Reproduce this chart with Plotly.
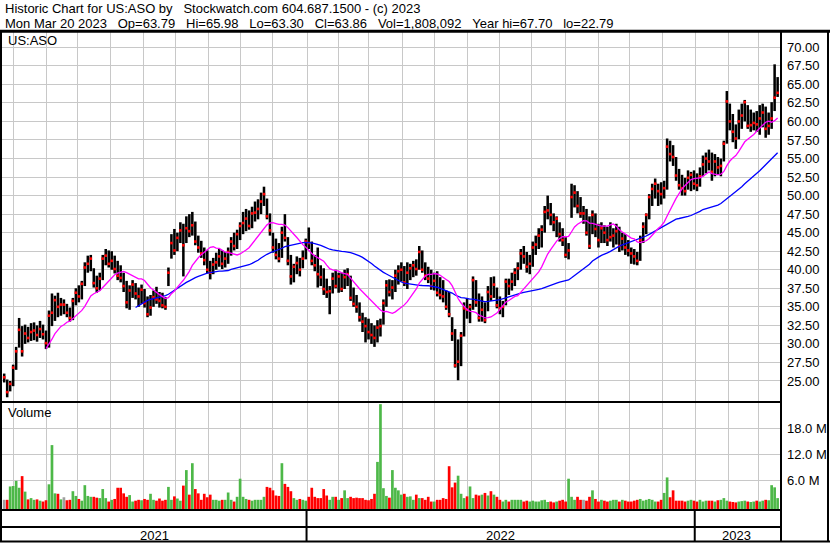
import numpy as np
import pandas as pd
import plotly.graph_objects as go

# ---------------- data ----------------
symbol = "US:ASO"
start_date = "2021-03-23"
end_date = "2023-03-20"
hdr_date = "Mon Mar 20 2023"
last_open, last_high, last_low, last_close = "63.79", "65.98", "63.30", "63.86"
last_volume = "1,808,092"
year_hi, year_lo = "67.70", "22.79"

high = [
    26.0, 25.2, 25.0, 27.2, 29.6, 33.5, 32.4, 32.6, 32.3, 32.8,
    32.9, 32.5, 33.1, 32.6, 31.8, 34.5, 36.8, 36.5, 36.9, 36.2,
    36.0, 35.4, 34.9, 36.2, 37.5, 37.9, 38.5, 41.0, 41.9, 42.0,
    40.2, 39.2, 39.6, 42.0, 42.8, 42.6, 42.5, 41.9, 41.2, 40.6,
    39.6, 38.5, 37.9, 38.6, 38.2, 37.6, 38.0, 37.4, 36.4, 36.6,
    37.2, 37.7, 37.0, 36.9, 36.3, 40.3, 44.8, 45.5, 45.0, 46.4,
    46.2, 47.2, 47.5, 47.8, 46.5, 44.6, 43.9, 43.0, 42.6, 41.2,
    41.6, 42.3, 42.8, 42.6, 42.4, 43.0, 44.4, 45.0, 45.4, 46.4,
    47.8, 48.2, 48.0, 48.5, 49.2, 49.5, 50.4, 51.2, 49.6, 47.6,
    45.0, 44.2, 43.6, 45.8, 47.5, 44.4, 42.0, 40.8, 41.8, 41.6,
    42.6, 44.2, 45.7, 43.8, 42.0, 43.0, 40.6, 40.2, 38.8, 37.8,
    39.6, 40.0, 39.6, 39.6, 40.0, 40.2, 39.2, 37.6, 36.6, 35.6,
    34.2, 33.6, 33.4, 32.8, 32.5, 33.2, 33.4, 36.0, 38.6, 38.7,
    38.6, 40.0, 40.6, 41.0, 40.5, 41.0, 40.8, 41.2, 41.4, 43.2,
    42.6, 41.0, 40.4, 40.0, 39.6, 39.8, 39.0, 38.6, 37.2, 37.0,
    33.6, 32.0, 30.6, 31.6, 35.6, 36.2, 35.4, 39.1, 38.6, 36.8,
    36.4, 35.6, 37.8, 39.0, 39.1, 37.6, 36.4, 35.8, 38.8, 38.8,
    39.6, 40.2, 41.0, 42.8, 43.2, 42.4, 42.0, 43.8, 44.6, 45.6,
    46.0, 48.6, 50.0, 49.0, 47.6, 47.2, 46.4, 45.6, 44.4, 43.6,
    51.6, 51.4, 50.6, 49.8, 48.6, 48.2, 47.2, 48.0, 47.6, 46.2,
    46.4, 46.0, 45.8, 46.4, 45.6, 46.2, 45.8, 45.0, 44.8, 44.0,
    43.0, 42.8, 42.4, 44.6, 46.4, 47.6, 50.2, 51.6, 52.3, 51.6,
    51.8, 52.0, 57.7, 57.4, 56.8, 55.2, 53.6, 52.8, 52.4, 53.4,
    53.2, 53.4, 53.0, 53.8, 55.4, 55.8, 56.2, 55.8, 55.6, 55.2,
    55.0, 57.4, 64.1, 62.4, 61.0, 59.6, 61.6, 62.4, 62.9, 62.2,
    61.6, 61.2, 61.4, 62.2, 62.4, 62.0, 61.2, 62.6, 67.7, 65.98,
]
low = [
    24.8, 22.8, 23.6, 24.3, 26.5, 29.5, 28.3, 30.0, 30.2, 30.4,
    30.5, 30.3, 30.8, 30.6, 29.3, 29.5, 32.4, 33.1, 33.6, 33.8,
    34.0, 33.6, 33.0, 33.2, 35.2, 35.6, 36.0, 37.8, 39.6, 39.8,
    37.6, 36.9, 37.2, 38.6, 40.6, 40.3, 40.0, 39.5, 38.6, 38.3,
    37.0, 34.8, 34.6, 36.2, 36.0, 35.0, 35.4, 34.9, 33.6, 33.8,
    35.0, 35.4, 34.9, 34.8, 34.6, 37.8, 41.5, 42.0, 42.5, 43.6,
    39.1, 43.6, 44.4, 44.6, 43.3, 42.3, 41.6, 40.6, 39.5, 38.7,
    39.4, 40.0, 40.4, 40.1, 40.3, 40.8, 41.9, 42.6, 42.8, 44.0,
    44.8, 45.2, 45.4, 45.6, 46.5, 46.8, 47.5, 48.6, 46.8, 44.6,
    42.3, 41.4, 41.0, 41.6, 43.8, 40.6, 38.0, 38.3, 39.4, 39.1,
    40.2, 41.4, 42.8, 40.6, 39.8, 37.6, 37.8, 36.6, 36.2, 34.0,
    36.8, 37.5, 36.9, 37.0, 37.4, 37.8, 35.8, 35.0, 34.2, 33.0,
    31.6, 30.2, 30.6, 30.0, 29.6, 30.2, 31.0, 32.6, 35.0, 36.4,
    36.0, 37.0, 38.0, 38.4, 37.8, 37.4, 38.6, 39.0, 39.2, 40.0,
    39.6, 38.6, 38.2, 37.3, 37.2, 36.4, 36.0, 35.6, 34.6, 33.6,
    30.4, 26.8, 25.1, 27.0, 31.0, 33.4, 32.8, 34.6, 35.0, 33.0,
    33.0, 32.8, 34.4, 35.8, 36.2, 34.8, 34.0, 33.6, 35.2, 36.6,
    37.2, 37.8, 38.6, 40.0, 40.8, 39.6, 39.4, 40.4, 42.0, 42.8,
    43.0, 45.0, 46.8, 46.0, 45.2, 44.4, 43.8, 43.2, 41.6, 41.4,
    47.0, 48.4, 47.6, 47.0, 46.2, 44.6, 42.8, 44.8, 44.4, 43.0,
    43.6, 43.6, 43.2, 43.8, 43.0, 43.4, 42.4, 42.6, 42.0, 41.8,
    40.8, 40.7, 40.6, 41.2, 43.6, 44.8, 46.8, 48.6, 49.6, 48.6,
    48.8, 49.6, 50.8, 54.6, 54.0, 52.0, 50.8, 50.0, 50.0, 50.8,
    50.6, 50.8, 50.6, 51.2, 52.6, 53.0, 53.4, 52.0, 52.6, 52.8,
    52.6, 54.6, 57.0, 58.8, 57.2, 56.3, 57.6, 59.0, 60.0, 59.0,
    58.6, 58.8, 58.6, 58.2, 59.2, 57.8, 58.2, 59.0, 61.4, 63.30,
]
close = [
    25.5, 23.5, 24.6, 26.8, 29.0, 31.9, 29.0, 31.4, 30.8, 31.6,
    31.8, 31.2, 32.0, 31.3, 30.1, 33.8, 34.2, 35.9, 35.0, 35.3,
    35.3, 34.2, 33.5, 35.8, 36.9, 36.4, 38.1, 40.3, 40.8, 41.5,
    38.2, 37.5, 38.8, 41.5, 41.9, 40.8, 41.2, 40.1, 39.2, 38.9,
    37.8, 35.6, 37.2, 38.0, 36.8, 36.4, 37.3, 35.5, 34.0, 34.9,
    36.3, 36.0, 35.8, 35.2, 35.0, 39.6, 43.6, 42.6, 44.3, 45.3,
    43.3, 45.6, 45.2, 46.0, 43.8, 43.0, 42.2, 41.3, 40.0, 39.6,
    40.7, 41.0, 41.8, 40.8, 41.5, 42.4, 43.8, 43.2, 44.8, 45.9,
    46.3, 46.9, 45.9, 47.6, 47.7, 48.2, 49.2, 50.2, 47.2, 45.3,
    43.0, 42.0, 41.5, 45.0, 44.3, 41.2, 39.1, 40.4, 40.9, 40.0,
    41.5, 43.8, 43.6, 41.2, 40.6, 39.4, 39.0, 37.4, 37.0, 37.1,
    38.8, 37.8, 39.1, 37.4, 39.0, 39.4, 36.2, 35.4, 35.0, 33.6,
    33.0, 32.4, 31.6, 31.2, 30.8, 32.2, 32.4, 35.5, 37.9, 37.0,
    37.6, 39.2, 39.8, 40.0, 38.3, 39.6, 40.2, 40.6, 40.1, 42.4,
    40.0, 39.2, 38.8, 37.8, 38.5, 36.9, 36.6, 36.4, 35.0, 34.0,
    31.4, 27.1, 27.6, 31.1, 34.8, 34.6, 35.0, 38.6, 35.6, 33.5,
    34.6, 33.2, 37.0, 36.4, 38.0, 35.2, 34.8, 35.0, 38.4, 37.8,
    38.4, 39.6, 40.2, 42.2, 41.8, 40.4, 40.8, 43.0, 43.4, 44.6,
    45.4, 47.8, 48.0, 47.4, 46.4, 46.9, 44.8, 44.0, 42.0, 42.6,
    49.8, 50.4, 48.6, 47.6, 47.6, 45.0, 43.2, 47.4, 45.5, 44.0,
    45.6, 45.0, 44.0, 44.4, 44.6, 45.2, 43.2, 44.2, 43.0, 42.6,
    42.2, 41.8, 41.2, 44.0, 45.8, 47.4, 49.8, 50.9, 51.6, 50.6,
    50.2, 51.0, 56.6, 55.6, 55.2, 52.7, 51.4, 51.0, 50.6, 52.4,
    52.8, 51.6, 51.4, 52.6, 54.2, 55.0, 54.6, 53.2, 54.6, 53.8,
    54.0, 57.0, 62.7, 60.0, 58.6, 57.7, 60.0, 60.8, 62.6, 59.4,
    59.5, 59.8, 59.6, 60.4, 61.2, 59.0, 59.4, 60.4, 63.2, 63.86,
]
volume_m = [
    1.4, 1.4, 4.5, 4.6, 5.8, 4.2, 6.9, 3.3, 1.5, 1.8,
    1.4, 1.5, 1.2, 1.0, 1.3, 5.0, 14.1, 2.9, 2.8, 1.5,
    2.0, 1.3, 1.4, 3.4, 2.3, 1.6, 1.2, 4.8, 2.3, 2.1,
    2.1, 1.9, 1.8, 3.9, 1.8, 1.0, 1.4, 1.6, 4.2, 4.2,
    2.9, 2.1, 2.5, 1.0, 1.2, 1.4, 1.3, 1.6, 1.4, 2.8,
    1.4, 1.2, 1.7, 1.2, 1.4, 4.4, 1.4, 2.2, 1.7, 1.2,
    4.7, 8.3, 2.6, 9.9, 3.9, 2.9, 1.4, 2.8, 2.0, 2.6,
    1.4, 1.4, 1.2, 1.4, 1.4, 3.1, 1.4, 1.0, 2.1, 6.3,
    2.1, 1.6, 1.4, 1.2, 1.4, 1.4, 1.4, 2.1, 4.4, 4.2,
    3.6, 2.4, 2.3, 9.9, 5.1, 4.4, 3.4, 1.8, 1.4, 1.6,
    1.4, 1.2, 2.1, 4.2, 2.1, 1.8, 1.8, 3.9, 2.4, 1.4,
    2.1, 2.1, 1.4, 1.8, 3.6, 1.8, 2.1, 1.8, 1.9, 1.8,
    1.8, 1.4, 1.3, 1.6, 2.8, 10.2, 23.6, 4.1, 2.3, 1.9,
    8.3, 4.2, 3.6, 2.6, 2.8, 2.1, 2.2, 1.4, 2.6, 1.8,
    1.8, 1.4, 2.1, 1.0, 1.0, 1.4, 1.4, 1.8, 1.6, 9.2,
    4.3, 5.4, 7.0, 2.8, 1.8, 2.2, 4.5, 1.8, 2.6, 2.4,
    2.6, 3.0, 2.4, 3.4, 2.6, 2.1, 1.4, 1.0, 1.4, 1.0,
    1.4, 1.4, 1.4, 1.4, 1.0, 1.2, 1.0, 1.2, 1.0, 1.0,
    1.3, 1.4, 0.9, 1.0, 0.8, 1.0, 1.2, 1.4, 1.0, 6.3,
    2.1, 1.4, 2.1, 1.4, 1.4, 1.2, 2.1, 3.6, 1.6, 1.0,
    1.4, 1.2, 1.0, 1.2, 1.4, 1.4, 1.0, 1.4, 1.2, 1.0,
    1.0, 1.2, 1.4, 1.6, 1.2, 1.4, 1.6, 1.4, 1.0, 1.0,
    1.4, 3.0, 6.6, 2.0, 3.6, 1.2, 1.2, 1.2, 1.0, 1.2,
    1.4, 1.2, 1.0, 1.4, 1.0, 1.2, 1.2, 1.2, 1.0, 1.3,
    1.4, 1.8, 1.2, 1.0, 0.9, 0.8, 1.0, 1.1, 1.2, 1.0,
    0.9, 1.0, 1.2, 1.0, 1.2, 1.4, 1.3, 4.8, 4.3, 1.8,
]
price_ticks = [25.0 + 2.5 * i for i in range(19)]
volume_ticks = [6.0, 12.0, 18.0]
ma_fast_window = 15
ma_slow_window = 45

# ---------------- styling / geometry ----------------
W, H = 830, 543
FONT = "Liberation Sans, Arial, sans-serif"
GRID = "#C8C8C8"
GREEN = "#4DB848"
RED = "#FF0000"
SP3 = "\u00a0\u00a0\u00a0"

days = pd.bdate_range(start_date, end_date)
pos_all = np.arange(len(days))
n = len(close)
bar_pos = pos_all[::-1][::2][::-1][-n:]

hi = np.array(high)
lo = np.array(low)
cl = np.array(close)
vol = np.array(volume_m)
s_close = pd.Series(cl)
ma_fast = s_close.rolling(ma_fast_window).mean()
ma_slow = s_close.rolling(ma_slow_window).mean()

diff = np.diff(cl, prepend=np.nan)
vcolors = ["#A0A0A0" if np.isnan(d) else (GREEN if d > 0 else (RED if d < 0 else "#A0A0A0")) for d in diff]

month_starts = [int(i) for i in range(1, len(days)) if days[i].month != days[i - 1].month]
year_starts = [int(i) for i in range(1, len(days)) if days[i].year != days[i - 1].year]

X_RANGE = [-0.47, 520.6]
XD = [2 / W, 780 / W]
def px_x(i):
    return XD[0] * W + (i - X_RANGE[0]) / (X_RANGE[1] - X_RANGE[0]) * (XD[1] - XD[0]) * W

VOL_RANGE = [-0.73, 23.87]

fig = go.Figure()
fig.add_trace(go.Bar(x=bar_pos, y=hi - lo, base=lo, width=1.7,
                     marker=dict(color="black", line=dict(width=0)), xaxis="x", yaxis="y"))
fig.add_trace(go.Scatter(x=bar_pos, y=cl, mode="markers",
                         marker=dict(symbol="square", size=2.6, color=RED, line=dict(width=0)),
                         xaxis="x", yaxis="y"))
fig.add_trace(go.Scatter(x=bar_pos, y=ma_slow, mode="lines", line=dict(color="#0000FF", width=1.3),
                         xaxis="x", yaxis="y"))
fig.add_trace(go.Scatter(x=bar_pos, y=ma_fast, mode="lines", line=dict(color="#FF00FF", width=1.3),
                         xaxis="x", yaxis="y"))
fig.add_trace(go.Bar(x=bar_pos, y=vol - VOL_RANGE[0], base=VOL_RANGE[0], width=1.8,
                     marker=dict(color=vcolors, line=dict(width=0)), xaxis="x2", yaxis="y2"))

def ann(text, px, py, size=13, xanchor="left"):
    return dict(text=text, x=px / W, y=1 - py / H, xref="paper", yref="paper",
                xanchor=xanchor, yanchor="middle", showarrow=False, borderpad=0, borderwidth=0,
                font=dict(family=FONT, size=size, color="black"))

def hline(py, x0, x1, w=2):
    return dict(type="line", xref="paper", yref="paper", x0=x0 / W, x1=x1 / W,
                y0=1 - py / H, y1=1 - py / H, line=dict(color="black", width=w))

def vline(px, y0, y1, w=2):
    return dict(type="line", xref="paper", yref="paper", x0=px / W, x1=px / W,
                y0=1 - y0 / H, y1=1 - y1 / H, line=dict(color="black", width=w))

shapes = [
    hline(31.2, 0, W, 3),
    hline(402, 0, 781),
    hline(510, 0, 781),
    hline(527, 0, 781),
    hline(541.5, 0, W),
    vline(1, 31, 542),
    vline(781, 31, 542),
    vline(828, 31, 542),
]
for ys in year_starts:
    shapes.append(vline(px_x(ys - 0.5), 510, 541))

line1 = "Historic Chart for %s by%sStockwatch.com 604.687.1500 - (c) 2023" % (symbol, SP3)
line2 = SP3.join([hdr_date, "Op=" + last_open, "Hi=" + last_high, "Lo=" + last_low,
                  "Cl=" + last_close, "Vol=" + last_volume, "Year hi=" + year_hi, "lo=" + year_lo])
annotations = [
    ann(line1, 5, 8.5),
    ann(line2, 5, 23.5),
    ann(symbol, 8, 40.5),
    ann("Volume", 8, 413),
]
bounds = [0] + year_starts + [len(days)]
for a, b in zip(bounds[:-1], bounds[1:]):
    x0 = max(px_x(a - 0.5), 2)
    x1 = min(px_x(b - 0.5), 781)
    annotations.append(ann(str(days[a].year), (x0 + x1) / 2, 535, xanchor="center"))

axis_common = dict(showline=False, zeroline=False, ticks="", showgrid=True,
                   gridcolor=GRID, gridwidth=1)
fig.update_layout(
    width=W, height=H, margin=dict(l=0, r=0, t=0, b=0),
    paper_bgcolor="white", plot_bgcolor="white", showlegend=False, barmode="overlay",
    xaxis=dict(domain=XD, range=X_RANGE, anchor="y", tickmode="array", tickvals=month_starts,
               showticklabels=False, **axis_common),
    xaxis2=dict(domain=XD, range=X_RANGE, anchor="y2", tickmode="array", tickvals=month_starts,
                showticklabels=False, **axis_common),
    yaxis=dict(domain=[1 - 401 / H, 1 - 32 / H], range=[22.30, 72.06], anchor="x", side="right",
               tickmode="array", tickvals=price_ticks, ticktext=["%.2f" % v for v in price_ticks],
               tickfont=dict(family=FONT, size=13, color="black"), ticklabelstandoff=6,
               **axis_common),
    yaxis2=dict(domain=[1 - 509 / H, 1 - 403 / H], range=VOL_RANGE, anchor="x2", side="right",
                tickmode="array", tickvals=volume_ticks, ticktext=["%.1f M" % v for v in volume_ticks],
                tickfont=dict(family=FONT, size=13, color="black"), ticklabelstandoff=6,
                **axis_common),
    shapes=shapes, annotations=annotations,
)

fig.write_html("out.html", config={"displayModeBar": False},
               post_script="document.body.style.margin='0px';")
